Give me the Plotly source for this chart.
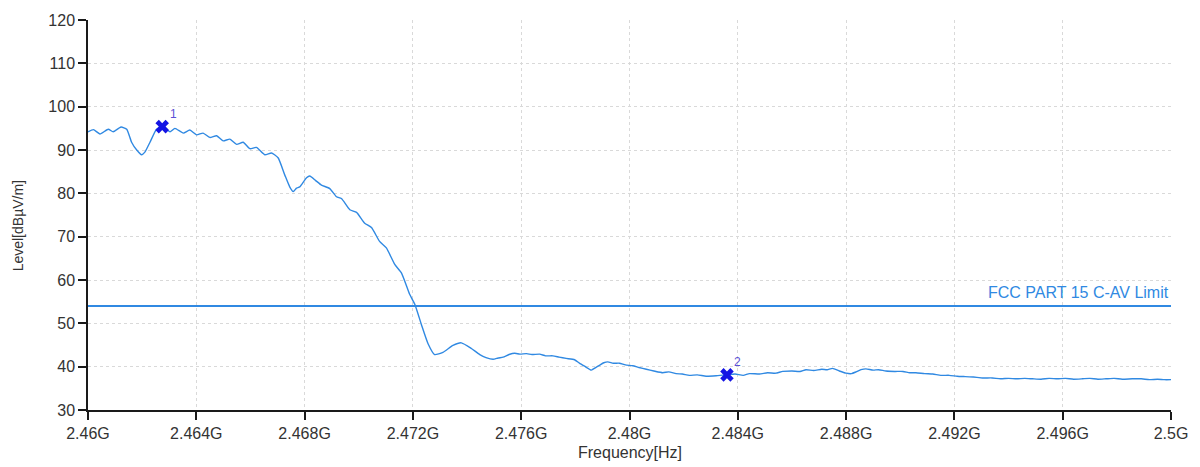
import plotly.graph_objects as go

# Trace readings (frequency in MHz, level in dBuV/m)
freq_mhz = [
    2460.00, 2460.20, 2460.44, 2460.75, 2460.93, 2461.22, 2461.43, 2461.61, 2461.80, 2461.98,
    2462.10, 2462.29, 2462.53, 2462.74, 2462.90, 2463.03, 2463.21, 2463.52, 2463.76, 2464.01,
    2464.25, 2464.50, 2464.75, 2464.99, 2465.24, 2465.49, 2465.73, 2465.98, 2466.22, 2466.53,
    2466.78, 2467.02, 2467.27, 2467.45, 2467.58, 2467.70, 2467.82, 2468.07, 2468.19, 2468.40,
    2468.62, 2468.93, 2469.18, 2469.36, 2469.67, 2469.92, 2470.22, 2470.47, 2470.77, 2471.02,
    2471.33, 2471.58, 2471.88, 2472.07, 2472.31, 2472.56, 2472.80, 2473.11, 2473.48, 2473.79,
    2474.16,
    2474.47, 2474.70, 2474.96, 2475.15, 2475.33, 2475.55, 2475.76, 2475.95, 2476.19, 2476.40,
    2476.68, 2476.90, 2477.17, 2477.40, 2477.66, 2477.97, 2478.15, 2478.34, 2478.59, 2478.75,
    2478.89, 2479.05, 2479.20, 2479.40, 2479.63, 2479.85, 2480.12, 2480.35, 2480.62, 2480.90,
    2481.23, 2481.45, 2481.72, 2481.95, 2482.21, 2482.50, 2482.83, 2483.20, 2483.58, 2483.90,
    2484.20, 2484.43, 2484.80, 2485.10, 2485.40, 2485.66, 2486.00, 2486.30, 2486.52, 2486.80,
    2487.10, 2487.30, 2487.50, 2487.75, 2488.00, 2488.20, 2488.37, 2488.55, 2488.73, 2489.00,
    2489.20, 2489.47, 2489.80, 2490.10, 2490.35, 2490.58, 2490.90, 2491.20, 2491.50, 2491.81,
    2492.10, 2492.40, 2492.70, 2493.04, 2493.40, 2493.70, 2494.00, 2494.30, 2494.60, 2494.88,
    2495.20, 2495.50, 2495.80, 2496.10, 2496.40, 2496.73, 2497.00, 2497.30, 2497.60, 2497.90,
    2498.20, 2498.57, 2498.90, 2499.20, 2499.50, 2499.75, 2500.00,
]
level = [
    94.2, 94.7, 93.7, 94.8, 94.2, 95.3, 94.8, 91.8, 90.0, 88.9,
    89.5, 91.8, 94.8, 95.4, 94.8, 94.2, 95.0, 93.9, 94.6, 93.5,
    93.9, 92.9, 93.3, 92.1, 92.5, 91.3, 91.8, 90.3, 90.6, 88.9,
    89.3, 88.2, 84.2, 81.5, 80.4, 81.2, 81.5, 83.6, 84.0, 83.0,
    81.9, 81.1, 79.2, 78.8, 76.2, 75.6, 73.1, 72.1, 68.9, 67.4,
    63.6, 61.6, 56.7, 54.4, 49.8, 45.3, 42.8, 43.3, 44.9, 45.5,
    44.2,
    42.8, 42.1, 41.7, 42.0, 42.2, 42.8, 43.1, 42.9, 43.0, 42.8,
    42.9, 42.5, 42.5, 42.2, 41.9, 41.6, 40.8, 40.1, 39.2, 39.8,
    40.3, 40.9, 41.1, 40.8, 40.8, 40.4, 40.2, 39.8, 39.4, 39.0,
    38.6, 38.8, 38.4, 38.3, 38.0, 38.1, 37.8, 37.9, 38.1, 38.3,
    38.0, 38.4, 38.3, 38.6, 38.5, 38.9, 39.0, 38.9, 39.3, 39.1,
    39.4, 39.3, 39.6, 39.0, 38.5, 38.4, 38.8, 39.3, 39.5, 39.2,
    39.3, 39.0, 38.9, 38.9, 38.6, 38.6, 38.4, 38.3, 38.0, 38.0,
    37.8, 37.7, 37.6, 37.4, 37.4, 37.2, 37.3, 37.2, 37.3, 37.2,
    37.1, 37.3, 37.2, 37.3, 37.1, 37.2, 37.3, 37.1, 37.2, 37.3,
    37.1, 37.2, 37.2, 37.0, 37.1, 37.0, 37.0,
]

limit_freq = [2460.0, 2500.0]
limit_level = [54.0, 54.0]
limit_name = "FCC PART 15 C-AV Limit"

marker_freq = [2462.74, 2483.60]
marker_level = [95.4, 38.1]
marker_labels = ["1", "2"]

x_tick_vals = [2460, 2464, 2468, 2472, 2476, 2480, 2484, 2488, 2492, 2496, 2500]
x_tick_text = ["2.46G", "2.464G", "2.468G", "2.472G", "2.476G", "2.48G",
               "2.484G", "2.488G", "2.492G", "2.496G", "2.5G"]
y_tick_vals = [30, 40, 50, 60, 70, 80, 90, 100, 110, 120]

x_title = "Frequency[Hz]"
y_title = "Level[dBµV/m]"

BLUE = "#3089e2"
FONT = "Liberation Sans, Arial, sans-serif"

fig = go.Figure()
fig.add_trace(go.Scatter(x=freq_mhz, y=level, mode="lines",
                         line=dict(color=BLUE, width=1.4, shape="spline", smoothing=0.5),
                         hoverinfo="skip"))
fig.add_trace(go.Scatter(x=limit_freq, y=limit_level, mode="lines",
                         line=dict(color=BLUE, width=2.2), hoverinfo="skip"))
fig.add_trace(go.Scatter(x=marker_freq, y=marker_level, mode="markers",
                         marker=dict(symbol="x", size=12, color="#1414e4",
                                     line=dict(width=0)),
                         hoverinfo="skip"))

for fx, fy, lab in zip(marker_freq, marker_level, marker_labels):
    fig.add_annotation(x=fx, y=fy, text=lab, showarrow=False, xref="x", yref="y",
                       xshift=11, yshift=13, font=dict(size=12, color="#5b50d6", family=FONT))

fig.add_annotation(x=limit_freq[1], y=limit_level[1], text=limit_name, showarrow=False,
                   xref="x", yref="y", xanchor="right", yanchor="bottom", yshift=3,
                   font=dict(size=16, color=BLUE, family=FONT))

# axis titles placed as annotations (paper coordinates)
fig.add_annotation(x=0.5, y=-0.109, xref="paper", yref="paper", text=x_title,
                   showarrow=False, xanchor="center", yanchor="middle",
                   font=dict(size=16, color="#333", family=FONT))
fig.add_annotation(x=-0.0646, y=0.471, xref="paper", yref="paper", text=y_title,
                   showarrow=False, xanchor="center", yanchor="middle", textangle=-90,
                   font=dict(size=14, color="#333", family=FONT))

axis_common = dict(
    showline=True, linecolor="#1a1a1a", linewidth=1.5,
    ticks="outside", ticklen=8, tickwidth=1.5, tickcolor="#1a1a1a",
    showgrid=True, gridcolor="#d9d9d9", griddash="3px,3px", gridwidth=1,
    zeroline=False, tickfont=dict(size=16, color="#333", family=FONT),
)

fig.update_layout(
    width=1200, height=467,
    margin=dict(l=88, r=28, t=17, b=57),
    paper_bgcolor="white", plot_bgcolor="white",
    showlegend=False,
    font=dict(family=FONT),
    xaxis=dict(range=[2460, 2500], tickvals=x_tick_vals, ticktext=x_tick_text,
               **axis_common),
    yaxis=dict(range=[30, 120], tickvals=y_tick_vals, **axis_common),
)

fig.write_html("out.html")
